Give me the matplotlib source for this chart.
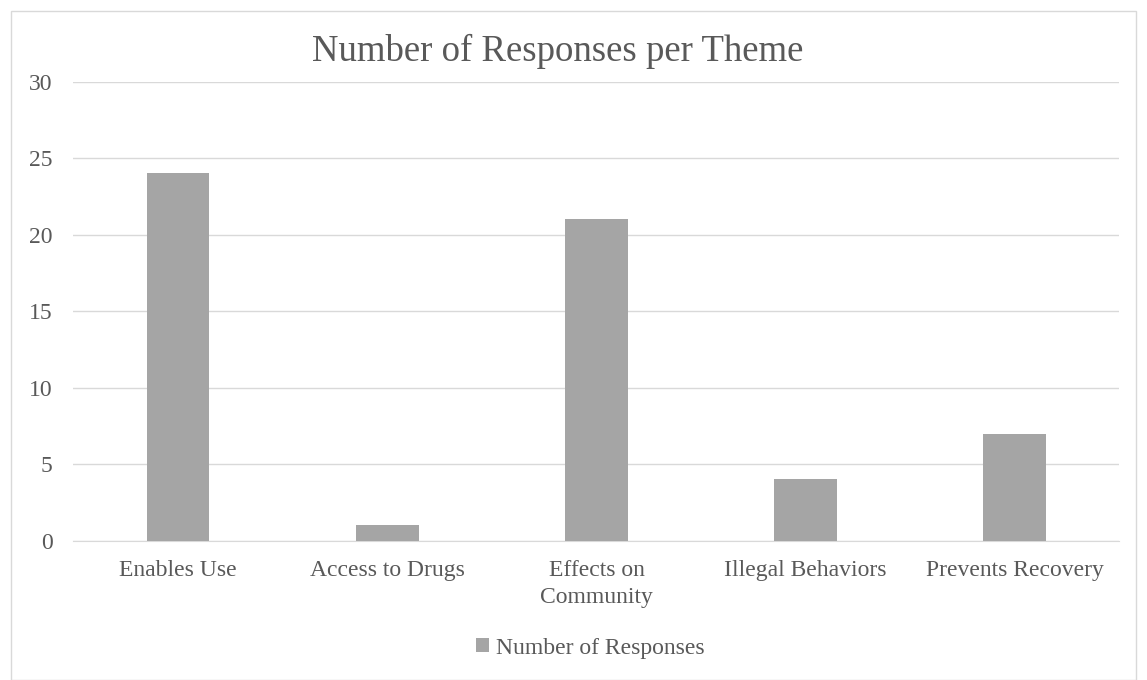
import matplotlib
matplotlib.use("Agg")
import matplotlib.pyplot as plt
from matplotlib.patches import Rectangle
import numpy as np

themes = ['Enables Use', 'Access to Drugs', 'Effects on\nCommunity', 'Illegal Behaviors', 'Prevents Recovery']
responses = [24, 1, 21, 4, 7]
y_ticks = [0, 5, 10, 15, 20, 25, 30]

plt.rcParams['font.family'] = ['Liberation Serif', 'DejaVu Serif']
text_color = '#595959'

fig = plt.figure(figsize=(11.47, 6.8), dpi=100)
ax = fig.add_axes([0.064, 0.205, 0.912, 0.675])

# outer chart border
fig.patches.append(Rectangle((11/1147, 0.0), 1 - 22/1147, 1 - 11/680, transform=fig.transFigure,
                             fill=False, edgecolor='#D9D9D9', linewidth=1.0))

x = np.arange(len(themes))
bars = ax.bar(x, responses, width=0.3, color='#A5A5A5', zorder=3, label='Number of Responses')

ax.set_ylim(0, 30)
ax.set_xlim(-0.5, len(themes) - 0.5)
ax.set_yticks(y_ticks)
ax.yaxis.grid(True, color='#D9D9D9', linewidth=1.0, zorder=0)
ax.set_xticks(x)
ax.set_xticklabels(themes, fontsize=17, color=text_color, linespacing=1.35)
ax.tick_params(axis='y', labelsize=17, labelcolor=text_color, length=0, pad=15)
ax.tick_params(axis='x', length=0, pad=14)
for s in ['top', 'right', 'left']:
    ax.spines[s].set_visible(False)
ax.spines['bottom'].set_color('#D9D9D9')

fig.text(0.4865, 0.925, 'Number of Responses per Theme', ha='center', va='center', fontsize=26.5, color=text_color)

fig.legend(handles=[bars], labels=['Number of Responses'], loc='center', bbox_to_anchor=(0.515, 0.047),
           frameon=False, fontsize=17, handlelength=0.55, handleheight=0.55, handletextpad=0.3,
           labelcolor=text_color)

fig.savefig('out.png', dpi=100)
